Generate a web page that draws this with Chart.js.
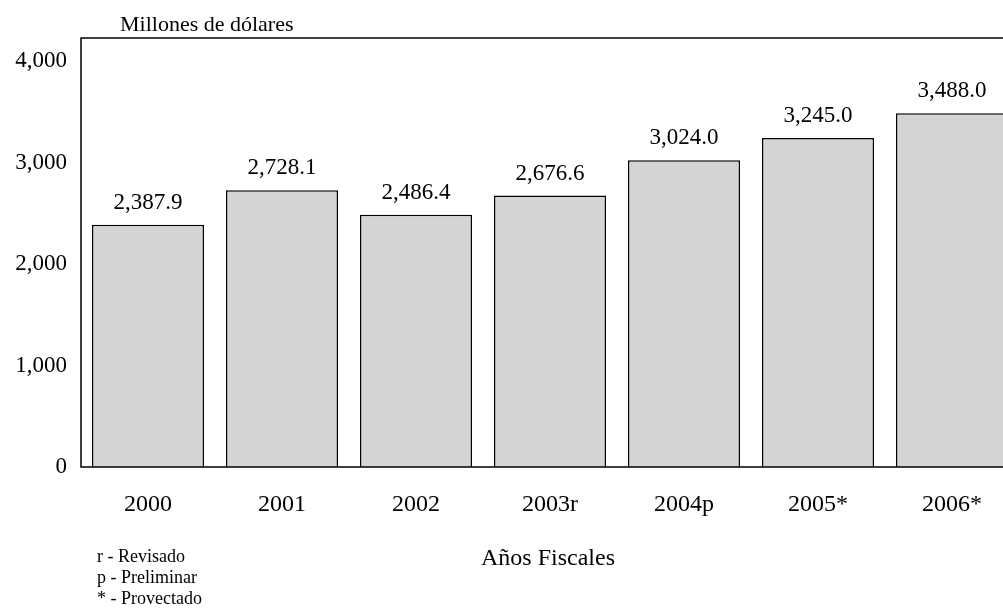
<!DOCTYPE html>
<html>
<head>
<meta charset="utf-8">
<script src="https://cdn.jsdelivr.net/npm/chart.js@4"></script>
<style>
  html, body { margin: 0; padding: 0; background: #fff; overflow: hidden; }
  #wrap { width: 1030px; height: 608px; }
</style>
</head>
<body>
<div id="wrap"><canvas id="barChart" width="1030" height="608"></canvas></div>
<script>
const years = ['2000', '2001', '2002', '2003r', '2004p', '2005*', '2006*'];
const amounts = [2387.9, 2728.1, 2486.4, 2676.6, 3024.0, 3245.0, 3488.0];
const yTicks = [0, 1000, 2000, 3000, 4000];
const notes = ['r - Revisado', 'p - Preliminar', '* - Provectado'];

const serif = "'Liberation Serif', 'DejaVu Serif', serif";

// frame + value labels + loose texts
const extras = {
    id: 'extras',
    afterDraw(chart) {
        const ctx = chart.ctx;
        const a = chart.chartArea;
        ctx.save();
        ctx.strokeStyle = '#000';
        ctx.lineWidth = 1.5;
        ctx.strokeRect(a.left, a.top, a.right - a.left, a.bottom - a.top);

        ctx.fillStyle = '#000';
        ctx.textAlign = 'center';
        ctx.textBaseline = 'alphabetic';
        ctx.font = '23px ' + serif;
        chart.getDatasetMeta(0).data.forEach((bar, i) => {
            const txt = amounts[i].toLocaleString('en-US', { minimumFractionDigits: 1, maximumFractionDigits: 1 });
            ctx.fillText(txt, bar.x, bar.y - 16);
        });

        ctx.textAlign = 'left';
        ctx.font = '22px ' + serif;
        ctx.fillText('Millones de dólares', 120, 31);

        ctx.font = '18px ' + serif;
        notes.forEach((n, i) => ctx.fillText(n, 97, 562 + i * 21));

        ctx.textAlign = 'center';
        ctx.font = '24px ' + serif;
        ctx.fillText('Años Fiscales', 548, 565);
        ctx.restore();
    }
};

new Chart(document.getElementById('barChart'), {
    type: 'bar',
    data: {
        labels: years,
        datasets: [{
            data: amounts,
            backgroundColor: '#d4d4d4',
            borderColor: '#000',
            borderWidth: 1.5,
            borderSkipped: 'bottom',
            barPercentage: 0.836,
            categoryPercentage: 1
        }]
    },
    options: {
        responsive: false,
        animation: false,
        events: [],
        layout: { padding: { top: 38, right: 11, left: 0, bottom: 0 } },
        plugins: {
            legend: { display: false },
            tooltip: { enabled: false }
        },
        scales: {
            x: {
                grid: { display: false, drawTicks: false },
                border: { display: false },
                ticks: {
                    color: '#000',
                    font: { family: serif, size: 24 },
                    padding: 23,
                    maxRotation: 0
                },
                afterFit(scale) { scale.height = 141; }
            },
            y: {
                min: 0,
                max: 4230,
                grid: { display: false, drawTicks: false },
                border: { display: false },
                afterBuildTicks(scale) { scale.ticks = yTicks.map(v => ({ value: v })); },
                ticks: {
                    color: '#000',
                    font: { family: serif, size: 23 },
                    padding: 14,
                    callback: v => v.toLocaleString('en-US')
                },
                afterFit(scale) { scale.width = 81; }
            }
        }
    },
    plugins: [extras]
});
</script>
</body>
</html>
